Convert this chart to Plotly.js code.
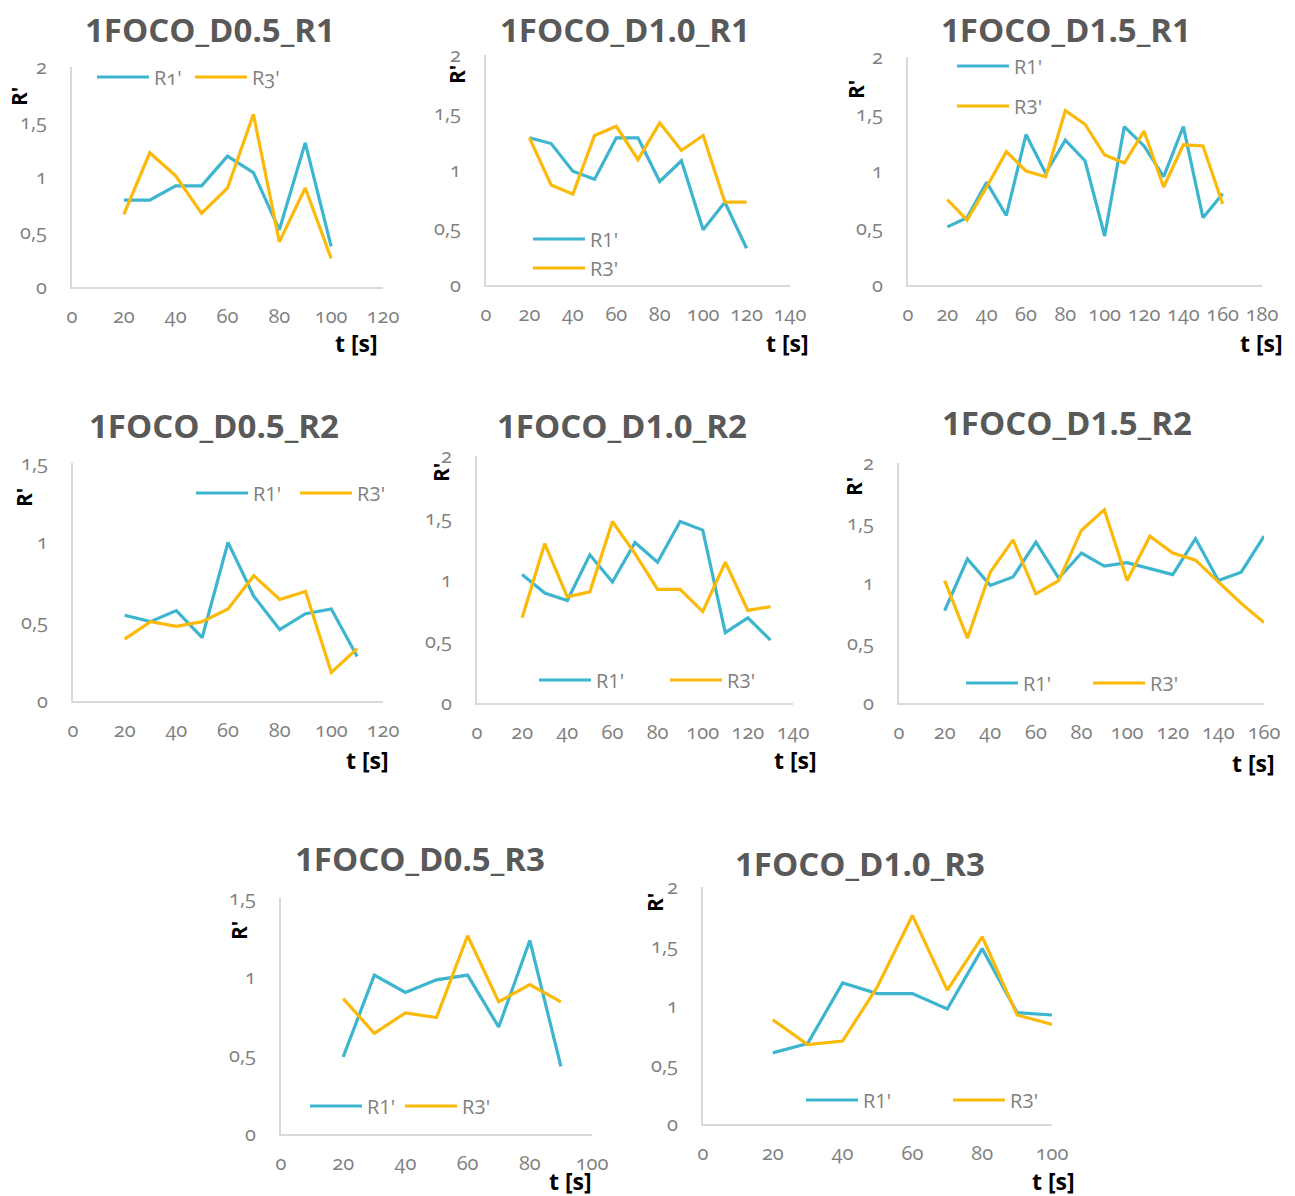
<!DOCTYPE html>
<html>
<head>
<meta charset="utf-8">
<script src="https://cdn.plot.ly/plotly-3.0.1.min.js"></script>
<style>
html,body{margin:0;padding:0;background:#ffffff;}
#chart{width:1295px;height:1196px;}
g.xaxislayer-above text, g.yaxislayer-above text, .legendtext{font-feature-settings:"onum" 1;font-variant-numeric:oldstyle-nums;}
</style>
</head>
<body>
<div id="chart"></div>
<script>
// ---------------- DATA ----------------
const titles = ['1FOCO_D0.5_R1','1FOCO_D1.0_R1','1FOCO_D1.5_R1',
                '1FOCO_D0.5_R2','1FOCO_D1.0_R2','1FOCO_D1.5_R2',
                '1FOCO_D0.5_R3','1FOCO_D1.0_R3'];
const seriesNames = ["R1'", "R3'"];
const xTitle = 't [s]';
const yTitle = "R'";

const t_D05_R1 = [20,30,40,50,60,70,80,90,100];
const r1_D05_R1 = [0.79,0.79,0.92,0.92,1.19,1.04,0.52,1.31,0.37];
const r3_D05_R1 = [0.66,1.22,1.01,0.67,0.90,1.57,0.41,0.90,0.26];

const t_D10_R1 = [20,30,40,50,60,70,80,90,100,110,120];
const r1_D10_R1 = [1.28,1.23,0.99,0.92,1.28,1.28,0.90,1.08,0.48,0.72,0.32];
const r3_D10_R1 = [1.28,0.87,0.79,1.30,1.38,1.09,1.41,1.17,1.30,0.72,0.72];

const t_D15_R1 = [20,30,40,50,60,70,80,90,100,110,120,130,140,150,160];
const r1_D15_R1 = [0.51,0.59,0.90,0.61,1.32,0.98,1.27,1.09,0.43,1.39,1.22,0.95,1.39,0.59,0.80];
const r3_D15_R1 = [0.75,0.57,0.86,1.17,1.00,0.95,1.53,1.41,1.14,1.07,1.35,0.86,1.23,1.22,0.71];

const t_D05_R2 = [20,30,40,50,60,70,80,90,100,110];
const r1_D05_R2 = [0.54,0.50,0.57,0.40,1.00,0.66,0.45,0.55,0.58,0.28];
const r3_D05_R2 = [0.39,0.50,0.47,0.50,0.58,0.79,0.64,0.69,0.18,0.33];

const t_D10_R2 = [20,30,40,50,60,70,80,90,100,110,120,130];
const r1_D10_R2 = [1.04,0.89,0.83,1.20,0.98,1.30,1.14,1.47,1.40,0.57,0.69,0.51];
const r3_D10_R2 = [0.69,1.29,0.86,0.90,1.47,1.21,0.92,0.92,0.74,1.14,0.75,0.78];

const t_D15_R2 = [20,30,40,50,60,70,80,90,100,110,120,130,140,150,160];
const r1_D15_R2 = [0.77,1.20,0.98,1.05,1.34,1.04,1.25,1.14,1.17,1.12,1.07,1.37,1.02,1.09,1.39];
const r3_D15_R2 = [1.02,0.54,1.09,1.36,0.91,1.02,1.44,1.61,1.02,1.39,1.25,1.19,1.01,0.83,0.67];

const t_D05_R3 = [20,30,40,50,60,70,80,90];
const r1_D05_R3 = [0.49,1.01,0.90,0.98,1.01,0.68,1.23,0.43];
const r3_D05_R3 = [0.86,0.64,0.77,0.74,1.26,0.84,0.95,0.84];

const t_D10_R3 = [20,30,40,50,60,70,80,90,100];
const r1_D10_R3 = [0.60,0.68,1.19,1.10,1.10,0.97,1.48,0.94,0.92];
const r3_D10_R3 = [0.88,0.67,0.70,1.16,1.76,1.13,1.58,0.92,0.84];

const xMax = [120,140,180,120,140,160,100,100];
const yMax = [2,2,2,1.5,2,2,1.5,2];

// ---------------- LAYOUT (pixels) ----------------
const W = 1295, H = 1196;
const C1 = '#3db5cf', C3 = '#fbb90a';
const seriesT  = [t_D05_R1,t_D10_R1,t_D15_R1,t_D05_R2,t_D10_R2,t_D15_R2,t_D05_R3,t_D10_R3];
const seriesR1 = [r1_D05_R1,r1_D10_R1,r1_D15_R1,r1_D05_R2,r1_D10_R2,r1_D15_R2,r1_D05_R3,r1_D10_R3];
const seriesR3 = [r3_D05_R1,r3_D10_R1,r3_D15_R1,r3_D05_R2,r3_D10_R2,r3_D15_R2,r3_D05_R3,r3_D10_R3];

// plot boxes [x0,x1,y0,y1]
const boxes = [[72,383,67,287],[486,790,55,285],[908,1262,57,285],
               [73,383,463,701],[477,793,456,703],[899,1264,463,703],
               [281,592,898,1134],[703,1052,887,1124]];
const titlePos = [[210,30],[625,30],[1066,30],[214,425],[622,425],[1067,423],[420,858],[860,863]];
const yLabPos = [[19,97],[457,75],[856,90],[24,498],[441,473],[854,487],[239,930],[655,903]];
const xLabPos = [[356,343],[787,343],[1261,343],[367,760],[795,760],[1253,763],[570,1181],[1053,1181]];
// legend: [lineStartX, centerY, orientation, spacing]
const legPos = [[97,77,'h',98],[533,239,'v',29],[957,66,'v',40],[196,493,'h',104],
                [539,680,'h',131],[966,683,'h',127],[310,1106,'h',95],[806,1100,'h',147]];

const ITEMW = 52, LFONT = 20;
const itemH = Math.max(LFONT*1.3,16)+3;

const traces = [];
const layout = {
  width: W, height: H,
  margin: {l:0,r:0,t:0,b:0},
  paper_bgcolor: '#ffffff', plot_bgcolor: 'rgba(0,0,0,0)',
  separators: ', ',
  font: {family: 'Open Sans, sans-serif', color: '#808080'},
  hovermode: false,
  showlegend: true,
  annotations: []
};

for (let i = 0; i < 8; i++) {
  const n = i + 1;
  const sfx = n === 1 ? '' : String(n);
  const lg = 'legend' + sfx;
  traces.push({x: seriesT[i], y: seriesR1[i], type: 'scatter', mode: 'lines', name: seriesNames[0],
               line: {color: C1, width: 3.2}, xaxis: 'x'+sfx, yaxis: 'y'+sfx, legend: lg, legendgroup: 'a'+n});
  traces.push({x: seriesT[i], y: seriesR3[i], type: 'scatter', mode: 'lines', name: seriesNames[1],
               line: {color: C3, width: 3.2}, xaxis: 'x'+sfx, yaxis: 'y'+sfx, legend: lg, legendgroup: 'b'+n});
  const b = boxes[i];
  const axCommon = {showline: true, linecolor: '#d9d9d9', linewidth: 2, showgrid: false, zeroline: false,
                    ticks: '', tickfont: {size: 20, color: '#808080', family: 'Open Sans, sans-serif'},
                    ticklabelstandoff: 10, fixedrange: true};
  layout['xaxis'+sfx] = Object.assign({}, axCommon, {domain: [b[0]/W, b[1]/W], range: [0, xMax[i]],
                          tick0: 0, dtick: 20, anchor: 'y'+sfx});
  layout['yaxis'+sfx] = Object.assign({}, axCommon, {domain: [1-b[3]/H, 1-b[2]/H], range: [0, yMax[i]],
                          tick0: 0, dtick: 0.5, anchor: 'x'+sfx, ticklabelstandoff: 19});
  const L = legPos[i];
  const isH = L[2] === 'h';
  const lo = {
    x: (L[0]-5)/W, y: 1 - (L[1] - (itemH/2 + 5))/H, xanchor: 'left', yanchor: 'top',
    orientation: L[2], bgcolor: 'rgba(0,0,0,0)', borderwidth: 0, itemwidth: ITEMW,
    font: {size: LFONT, color: '#808080', family: 'Open Sans, sans-serif'},
    itemclick: false, itemdoubleclick: false
  };
  if (isH) { lo.entrywidth = L[3] - (ITEMW + 10) - 5; lo.entrywidthmode = 'pixels'; lo.tracegroupgap = 0; }
  else { lo.tracegroupgap = L[3] - itemH; }
  layout[lg] = lo;
  layout.annotations.push({text: '<b>'+titles[i]+'</b>', xref: 'paper', yref: 'paper',
    x: titlePos[i][0]/W, y: 1 - titlePos[i][1]/H, xanchor: 'center', yanchor: 'middle', showarrow: false,
    font: {size: 33, color: '#595959', family: 'Open Sans, sans-serif'}});
  layout.annotations.push({text: '<b>'+yTitle+'</b>', xref: 'paper', yref: 'paper', textangle: -90,
    x: yLabPos[i][0]/W, y: 1 - yLabPos[i][1]/H, xanchor: 'center', yanchor: 'middle', showarrow: false,
    font: {size: 21, color: '#000000', family: 'Open Sans, sans-serif'}});
  layout.annotations.push({text: '<b>'+xTitle+'</b>', xref: 'paper', yref: 'paper',
    x: xLabPos[i][0]/W, y: 1 - xLabPos[i][1]/H, xanchor: 'center', yanchor: 'middle', showarrow: false,
    font: {size: 23, color: '#000000', family: 'Open Sans, sans-serif'}});
}

Plotly.newPlot('chart', traces, layout, {displayModeBar: false, staticPlot: true});
</script>
</body>
</html>
